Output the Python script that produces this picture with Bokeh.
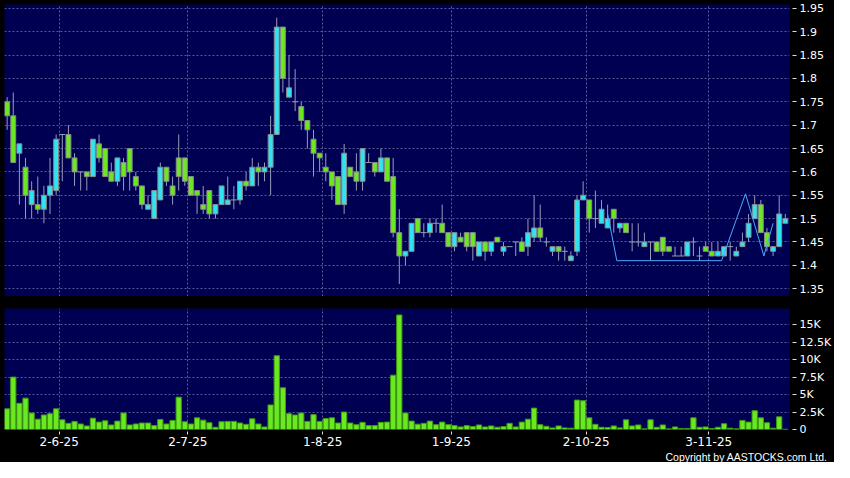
from bokeh.plotting import figure
from bokeh.layouts import column
from bokeh.models import Range1d, FixedTicker, Title
from bokeh.embed import file_html
from bokeh.resources import INLINE

# ---- data (one entry per trading day, 20-May-2025 .. 19-Nov-2025) ----
opens = [1.75, 1.72, 1.64, 1.61, 1.53, 1.53, 1.52, 1.55, 1.56, 1.68,
         1.68, 1.63, 1.60, 1.60, 1.59, 1.66, 1.65, 1.60, 1.58, 1.62,
         1.65, 1.59, 1.57, 1.52, 1.50, 1.54, 1.61, 1.57, 1.63, 1.63,
         1.59, 1.56, 1.53, 1.56, 1.51, 1.53, 1.53, 1.54, 1.54, 1.58,
         1.57, 1.61, 1.60, 1.61, 1.68, 1.91, 1.76, 1.75, 1.74, 1.71,
         1.67, 1.64, 1.61, 1.60, 1.59, 1.53, 1.61, 1.60, 1.58, 1.62,
         1.62, 1.60, 1.63, 1.59, 1.47, 1.42, 1.43, 1.50, 1.47, 1.47,
         1.49, 1.49, 1.47, 1.44, 1.46, 1.47, 1.47, 1.42, 1.45, 1.43,
         1.46, 1.43, 1.44, 1.45, 1.45, 1.44, 1.46, 1.48, 1.45, 1.43,
         1.44, 1.43, 1.41, 1.43, 1.54, 1.54, 1.50, 1.49, 1.48, 1.52,
         1.48, 1.49, 1.45, 1.45, 1.44, 1.45, 1.45, 1.46, 1.44, 1.42,
         1.42, 1.42, 1.45, 1.42, 1.44, 1.43, 1.42, 1.42, 1.44, 1.42,
         1.44, 1.46, 1.50, 1.53, 1.47, 1.43, 1.44, 1.49]
highs = [1.76, 1.77, 1.66, 1.63, 1.58, 1.59, 1.57, 1.63, 1.68, 1.68,
         1.70, 1.64, 1.60, 1.60, 1.67, 1.68, 1.65, 1.62, 1.63, 1.63,
         1.65, 1.60, 1.57, 1.55, 1.56, 1.62, 1.61, 1.59, 1.68, 1.63,
         1.59, 1.56, 1.57, 1.56, 1.53, 1.57, 1.59, 1.57, 1.58, 1.60,
         1.63, 1.62, 1.62, 1.72, 1.93, 1.91, 1.85, 1.82, 1.75, 1.71,
         1.69, 1.64, 1.64, 1.60, 1.59, 1.66, 1.61, 1.64, 1.65, 1.64,
         1.62, 1.65, 1.63, 1.63, 1.52, 1.43, 1.49, 1.50, 1.49, 1.50,
         1.50, 1.53, 1.47, 1.47, 1.47, 1.47, 1.47, 1.45, 1.45, 1.45,
         1.46, 1.45, 1.44, 1.45, 1.46, 1.50, 1.55, 1.53, 1.46, 1.44,
         1.44, 1.44, 1.43, 1.55, 1.58, 1.54, 1.56, 1.54, 1.53, 1.52,
         1.49, 1.49, 1.49, 1.49, 1.47, 1.45, 1.45, 1.46, 1.44, 1.44,
         1.44, 1.45, 1.46, 1.44, 1.45, 1.45, 1.45, 1.44, 1.45, 1.44,
         1.47, 1.51, 1.55, 1.54, 1.48, 1.44, 1.55, 1.51]
lows = [1.69, 1.62, 1.53, 1.50, 1.50, 1.51, 1.49, 1.51, 1.55, 1.58,
        1.63, 1.57, 1.56, 1.56, 1.59, 1.62, 1.59, 1.58, 1.57, 1.56,
        1.56, 1.56, 1.52, 1.52, 1.50, 1.54, 1.57, 1.53, 1.56, 1.57,
        1.55, 1.51, 1.51, 1.50, 1.50, 1.53, 1.53, 1.52, 1.53, 1.56,
        1.57, 1.57, 1.58, 1.55, 1.68, 1.77, 1.76, 1.73, 1.69, 1.65,
        1.59, 1.60, 1.58, 1.54, 1.53, 1.51, 1.59, 1.56, 1.56, 1.62,
        1.59, 1.60, 1.58, 1.46, 1.36, 1.40, 1.43, 1.47, 1.46, 1.46,
        1.47, 1.47, 1.44, 1.43, 1.45, 1.43, 1.41, 1.42, 1.41, 1.42,
        1.45, 1.42, 1.44, 1.42, 1.43, 1.42, 1.45, 1.45, 1.44, 1.42,
        1.41, 1.41, 1.41, 1.42, 1.54, 1.47, 1.48, 1.49, 1.48, 1.47,
        1.47, 1.47, 1.43, 1.44, 1.44, 1.41, 1.43, 1.42, 1.43, 1.42,
        1.42, 1.42, 1.42, 1.41, 1.43, 1.42, 1.42, 1.42, 1.41, 1.42,
        1.44, 1.45, 1.50, 1.47, 1.43, 1.42, 1.44, 1.49]
closes = [1.72, 1.62, 1.66, 1.55, 1.56, 1.52, 1.55, 1.57, 1.67, 1.68,
          1.63, 1.60, 1.60, 1.59, 1.67, 1.63, 1.59, 1.58, 1.63, 1.59,
          1.60, 1.57, 1.53, 1.53, 1.56, 1.61, 1.58, 1.55, 1.59, 1.58,
          1.55, 1.55, 1.52, 1.51, 1.53, 1.57, 1.54, 1.54, 1.58, 1.57,
          1.61, 1.60, 1.61, 1.68, 1.91, 1.80, 1.78, 1.75, 1.71, 1.69,
          1.64, 1.63, 1.60, 1.57, 1.53, 1.64, 1.59, 1.58, 1.65, 1.62,
          1.60, 1.63, 1.58, 1.47, 1.42, 1.43, 1.49, 1.47, 1.47, 1.49,
          1.49, 1.47, 1.44, 1.47, 1.45, 1.44, 1.44, 1.45, 1.43, 1.45,
          1.45, 1.44, 1.44, 1.45, 1.43, 1.47, 1.48, 1.46, 1.45, 1.44,
          1.43, 1.43, 1.42, 1.54, 1.55, 1.50, 1.50, 1.52, 1.50, 1.50,
          1.49, 1.47, 1.45, 1.45, 1.45, 1.45, 1.43, 1.43, 1.43, 1.42,
          1.42, 1.45, 1.45, 1.42, 1.43, 1.42, 1.43, 1.44, 1.44, 1.43,
          1.45, 1.49, 1.53, 1.47, 1.44, 1.44, 1.51, 1.50]
volumes = [2960, 7500, 3750, 4490, 2360, 1480, 2080, 2270, 2960, 1390,
           880, 1160, 790, 510, 1620, 1060, 1250, 650, 1200, 2360,
           650, 790, 930, 930, 560, 1440, 790, 1300, 4630, 1110,
           790, 1670, 1340, 970, 320, 1110, 1160, 1160, 930, 740,
           1530, 790, 370, 3520, 10560, 5970, 2270, 2080, 2360, 1160,
           2130, 1160, 1570, 1670, 930, 2500, 930, 690, 1020, 560,
           560, 1020, 1060, 7780, 16390, 2360, 1200, 760, 880, 1200,
           690, 1060, 690, 560, 370, 560, 420, 650, 370, 510,
           320, 420, 880, 370, 1060, 1480, 3060, 690, 460, 230,
           510, 230, 190, 4210, 4120, 1670, 740, 320, 280, 510,
           230, 1390, 510, 650, 90, 1390, 320, 650, 90, 370,
           140, 140, 1670, 320, 370, 140, 320, 830, 190, 90,
           1300, 1060, 2690, 1670, 970, 190, 1810, 30]

# pattern line drawn over the candles (day index, price)
pattern_day = [98.5, 100.0, 117.1, 121.0, 124.0, 125.5]
pattern_price = [1.51, 1.41, 1.41, 1.553, 1.42, 1.49]

tick_day_index = [9, 30, 52, 73, 95, 115]
tick_labels = ["2-6-25", "2-7-25", "1-8-25", "1-9-25", "2-10-25", "3-11-25"]
price_ticks = [1.35, 1.4, 1.45, 1.5, 1.55, 1.6, 1.65, 1.7, 1.75, 1.8, 1.85, 1.9, 1.95]
price_tick_labels = ["1.35", "1.4", "1.45", "1.5", "1.55", "1.6", "1.65", "1.7",
                     "1.75", "1.8", "1.85", "1.9", "1.95"]
vol_ticks = [0, 2500, 5000, 7500, 10000, 12500, 15000]
vol_tick_labels = ["0", "2.5K", "5K", "7.5K", "10K", "12.5K", "15K"]
copyright_text = "Copyright by AASTOCKS.com Ltd."

# ---- styling ----
NAVY = "#000052"
GREEN = "#6ae822"
CYAN = "#2ee4f4"
WICK = "#9a9ab8"
EDGE = "#8a8a8a"
GRID = "#5a5a9a"
FONT = "DejaVu Sans"

n = len(opens)
xs = [i + 0.5 for i in range(n)]
x_range = Range1d(0.07, 128.18)

up = [i for i in range(n) if closes[i] > opens[i]]
dn = [i for i in range(n) if closes[i] < opens[i]]
dj = [i for i in range(n) if closes[i] == opens[i]]

W = 834
LEFT = 4
RIGHT = 40


def style(p):
    p.background_fill_color = NAVY
    p.border_fill_color = "black"
    p.outline_line_color = None
    for g in (p.xgrid[0], p.ygrid[0]):
        g.grid_line_color = GRID
        g.grid_line_dash = "2 2"
        g.grid_line_width = 1
    for ax in p.yaxis:
        ax.axis_line_color = None
        ax.major_tick_line_color = "#dddddd"
        ax.minor_tick_line_color = None
        ax.major_tick_in = -3
        ax.major_tick_out = 7
        ax.major_label_standoff = 3
        ax.major_label_text_color = "white"
        ax.major_label_text_font = FONT
        ax.major_label_text_font_size = "11px"


p1 = figure(width=W, height=296, x_range=x_range, y_range=Range1d(1.3333, 1.9583),
            output_backend="svg", toolbar_location=None, y_axis_location="right",
            min_border_left=LEFT, min_border_top=4, min_border_bottom=0,
            min_border_right=RIGHT)
style(p1)
p1.xaxis.visible = False
p1.xgrid.ticker = FixedTicker(ticks=tick_day_index)
p1.yaxis.ticker = FixedTicker(ticks=price_ticks)
p1.yaxis.major_label_overrides = dict(zip(price_ticks, price_tick_labels))

p1.segment(x0=xs, y0=highs, x1=xs, y1=lows, line_color=WICK, line_width=1)
p1.vbar(x=[xs[i] for i in up], width=0.8, bottom=[opens[i] for i in up],
        top=[closes[i] for i in up], fill_color=CYAN, line_color=EDGE, line_width=1)
p1.vbar(x=[xs[i] for i in dn], width=0.8, bottom=[closes[i] for i in dn],
        top=[opens[i] for i in dn], fill_color=GREEN, line_color=EDGE, line_width=1)
p1.scatter(x=[xs[i] for i in dj], y=[opens[i] for i in dj], marker="dash", size=6,
           line_color=WICK, line_width=1)
p1.line(x=pattern_day, y=pattern_price, line_color="#4aa8ff", line_width=1)

p2 = figure(width=W, height=166, x_range=x_range, y_range=Range1d(0, 17320),
            output_backend="svg", toolbar_location=None, y_axis_location="right",
            min_border_left=LEFT, min_border_top=12, min_border_bottom=0,
            min_border_right=RIGHT)
style(p2)
p2.vbar(x=xs, width=0.86, bottom=0, top=volumes, fill_color=GREEN,
        line_color="#3f9a10", line_width=1)
p2.yaxis.ticker = FixedTicker(ticks=vol_ticks)
p2.yaxis.major_label_overrides = dict(zip(vol_ticks, vol_tick_labels))
p2.xaxis.ticker = FixedTicker(ticks=tick_day_index)
p2.xaxis.major_label_overrides = dict(zip(tick_day_index, tick_labels))
ax = p2.xaxis[0]
ax.axis_line_color = None
ax.major_tick_line_color = "#dddddd"
ax.minor_tick_line_color = None
ax.major_tick_in = -2
ax.major_tick_out = 5
ax.major_label_standoff = 2
ax.major_label_text_color = "white"
ax.major_label_text_font = FONT
ax.major_label_text_font_size = "12px"

p2.add_layout(Title(text=copyright_text, align="right", offset=-38, standoff=0,
                    text_color="white", text_font="Liberation Sans",
                    text_font_size="10.5px", text_font_style="normal"), "below")

layout = column(p1, p2, spacing=0, styles={"background-color": "black"})
open("out.html", "w").write(file_html(layout, INLINE))
